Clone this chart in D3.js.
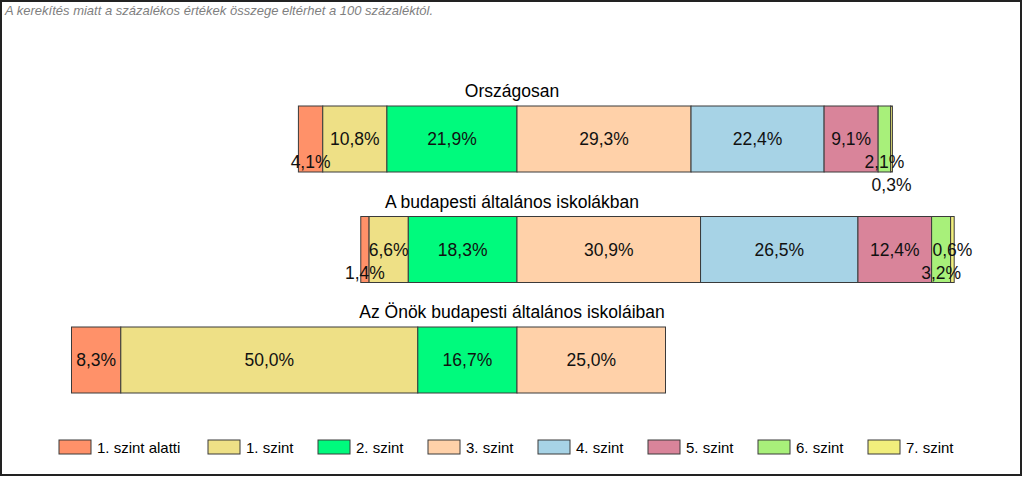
<!DOCTYPE html>
<html><head><meta charset="utf-8">
<script src="https://cdn.jsdelivr.net/npm/d3@7"></script>
<style>
html,body{margin:0;padding:0;background:#fff;}
svg{display:block;font-family:"Liberation Sans",Arial,sans-serif;}
</style></head>
<body>
<svg id="chart" width="1024" height="478"></svg>
<script>
const levels = ["1. szint alatti","1. szint","2. szint","3. szint","4. szint","5. szint","6. szint","7. szint"];
const colors = ["#FF9169","#EEE086","#00FA7D","#FFD1A9","#A7D3E6","#D9849A","#A8F07A","#F1EE7C"];
const groups = ["Országosan","A budapesti általános iskolákban","Az Önök budapesti általános iskoláiban"];
const valuesOrszagos = [4.1,10.8,21.9,29.3,22.4,9.1,2.1,0.3];
const valuesBudapest = [1.4,6.6,18.3,30.9,26.5,12.4,3.2,0.6];
const valuesOnok     = [8.3,50.0,16.7,25.0,0,0,0,0];
const note = "A kerekítés miatt a  százalékos értékek összege eltérhet a 100 százaléktól.";

const allValues = [valuesOrszagos, valuesBudapest, valuesOnok];
const nNeg = 3; // levels left of the centre line

const svg = d3.select("#chart");
svg.append("rect").attr("x",1).attr("y",1).attr("width",1020).attr("height",474)
  .attr("fill","#fff").attr("stroke","#222").attr("stroke-width",2);

svg.append("text").attr("x",5).attr("y",15).attr("fill","#7f7f7f")
  .attr("font-size","13px").attr("font-style","italic").text(note);

// x scale: percent offset from centre line
const x = d3.scaleLinear().domain([-75,75]).range([517-75*5.94, 517+75*5.94]);
const bandTop = d3.scaleLinear().domain([0,2]).range([106,327]);
const barH = 66;

groups.forEach((g,gi)=>{
  const vals = allValues[gi];
  const negSum = d3.sum(vals.slice(0,nNeg));
  let cum = -negSum;
  const segs = vals.map((v,i)=>{ const s={v,i,x0:cum,x1:cum+v}; cum+=v; return s; }).filter(s=>s.v>0);
  const top = bandTop(gi);
  const gEl = svg.append("g");
  gEl.append("text").attr("x",512).attr("y",top-9).attr("text-anchor","middle")
    .attr("font-size","17.5px").attr("fill","#000").text(g);
  gEl.selectAll("rect.seg").data(segs).join("rect")
    .attr("x",d=>x(d.x0)).attr("y",top)
    .attr("width",d=>x(d.x1)-x(d.x0)).attr("height",barH)
    .attr("fill",d=>colors[d.i]).attr("stroke","#3a3a3a").attr("stroke-width",1);

  // labels with simple collision avoidance
  const placed = [];
  const yPos = {center: top+barH/2, low: top+barH-10, below: top+barH+13};
  segs.forEach(d=>{
    const cx = (x(d.x0)+x(d.x1))/2;
    const t = gEl.append("text").attr("x",cx).attr("text-anchor","middle")
      .attr("dominant-baseline","central").attr("font-size","17.5px").attr("fill","#111")
      .text(d.v.toFixed(1).replace(".",",")+"%");
    const w = t.node().getComputedTextLength();
    const segW = x(d.x1)-x(d.x0);
    let order = segW >= w ? ["center"] : ["low","center","below"];
    let chosen = order[order.length-1];
    for (const p of order) {
      const box = {x0:cx-w/2-2, x1:cx+w/2+2, p};
      const hit = placed.some(b=>b.p===p && b.x0<box.x1 && box.x0<b.x1);
      if (!hit) { chosen = p; break; }
    }
    placed.push({x0:cx-w/2-2, x1:cx+w/2+2, p:chosen});
    t.attr("y", yPos[chosen]);
  });
});

// legend
const lg = svg.append("g");
const lx = d3.scaleLinear().domain([1,2]).range([208,318]);
levels.forEach((l,i)=>{
  const px = i===0 ? 59 : lx(i);
  lg.append("rect").attr("x",px).attr("y",440).attr("width",32).attr("height",14)
    .attr("fill",colors[i]).attr("stroke","#3a3a3a").attr("stroke-width",1);
  lg.append("text").attr("x",px+38).attr("y",447).attr("dominant-baseline","central")
    .attr("font-size","15px").attr("fill","#000").text(l);
});
</script>
</body></html>
